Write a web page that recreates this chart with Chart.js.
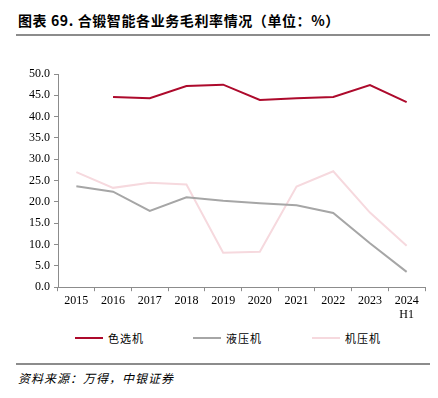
<!DOCTYPE html>
<html>
<head>
<meta charset="utf-8">
<script src="https://cdn.jsdelivr.net/npm/chart.js@4/dist/chart.umd.min.js"></script>
<style>
  body { margin: 0; background: #fff; width: 438px; height: 398px; position: relative; overflow: hidden; }
  #title { position: absolute; left: 18px; top: 10px; font: bold 14px "Noto Sans CJK SC", sans-serif; letter-spacing: 0.6px; color: #000; }
  .rule { position: absolute; left: 16px; width: 414px; height: 2px; background: #8c8c8c; }
  #box { position: absolute; left: 0; top: 40px; width: 438px; height: 284px; }
  #legend { position: absolute; left: 0; top: 330px; width: 438px; height: 16px; }
  .item { position: absolute; top: 0; height: 16px; font: 11px "Noto Sans CJK SC", sans-serif; letter-spacing: 1px; line-height: 16px; color: #000; }
  .item i { position: absolute; left: 0; top: 7px; width: 28px; height: 2px; }
  .item span { position: absolute; left: 33px; white-space: nowrap; }
  #source { position: absolute; left: 18px; top: 369px; font: italic 12px "Noto Sans CJK SC", sans-serif; letter-spacing: 1px; color: #000; }
</style>
</head>
<body>
<div id="title">图表 69. 合锻智能各业务毛利率情况（单位：%）</div>
<div class="rule" style="top:34px"></div>
<div id="box"><canvas id="chart"></canvas></div>
<div id="legend"></div>
<div class="rule" style="top:363px"></div>
<div id="source">资料来源：万得，中银证券</div>
<script>
  // Data
  const years = ["2015", "2016", "2017", "2018", "2019", "2020", "2021", "2022", "2023", ["2024", "H1"]];
  const colorSorter = [null, 44.6, 44.3, 47.2, 47.5, 43.9, 44.3, 44.6, 47.4, 43.4];
  const hydraulicPress = [23.7, 22.4, 17.9, 21.1, 20.3, 19.7, 19.2, 17.4, 10.3, 3.6];
  const mechanicalPress = [27.0, 23.3, 24.5, 24.1, 8.1, 8.3, 23.6, 27.2, 17.5, 9.7];

  const serif = "'Liberation Serif', 'Times New Roman', serif";
  const axisColor = "#8c8c8c";

  function makeSet(label, data, color) {
    return {
      label: label,
      data: data,
      borderColor: color,
      backgroundColor: color,
      borderWidth: 2,
      pointRadius: 0,
      tension: 0,
      spanGaps: false
    };
  }

  const chart = new Chart(document.getElementById("chart"), {
    type: "line",
    data: {
      labels: years,
      datasets: [
        makeSet("色选机", colorSorter, "#ad0a2c"),
        makeSet("液压机", hydraulicPress, "#a6a6a6"),
        makeSet("机压机", mechanicalPress, "#f6d9de")
      ]
    },
    options: {
      responsive: true,
      maintainAspectRatio: false,
      animation: false,
      layout: { padding: { left: 0, right: 13, top: 34, bottom: 0 } },
      plugins: {
        tooltip: { enabled: false },
        legend: { display: false }
      },
      scales: {
        x: {
          offset: true,
          grid: { offset: true, drawOnChartArea: false, drawTicks: true, tickLength: 4, color: axisColor },
          border: { color: axisColor, width: 1 },
          ticks: { color: "#000", maxRotation: 0, autoSkip: false, padding: 2, font: { family: serif, size: 12 } }
        },
        y: {
          min: 0,
          max: 50,
          afterFit: function (scale) { scale.width = 58; },
          grid: { drawOnChartArea: false, drawTicks: true, tickLength: 4, color: axisColor },
          border: { color: axisColor, width: 1 },
          ticks: {
            stepSize: 5,
            color: "#000",
            padding: 4,
            font: { family: serif, size: 12 },
            callback: function (v) { return v.toFixed(1); }
          }
        }
      }
    }
  });

  // Legend built from the chart's own datasets
  const legendX = [75, 193, 312];
  const legend = document.getElementById("legend");
  chart.data.datasets.forEach(function (ds, i) {
    const item = document.createElement("div");
    item.className = "item";
    item.style.left = legendX[i] + "px";
    item.innerHTML = '<i style="background:' + ds.borderColor + '"></i><span>' + ds.label + "</span>";
    legend.appendChild(item);
  });
</script>
</body>
</html>
